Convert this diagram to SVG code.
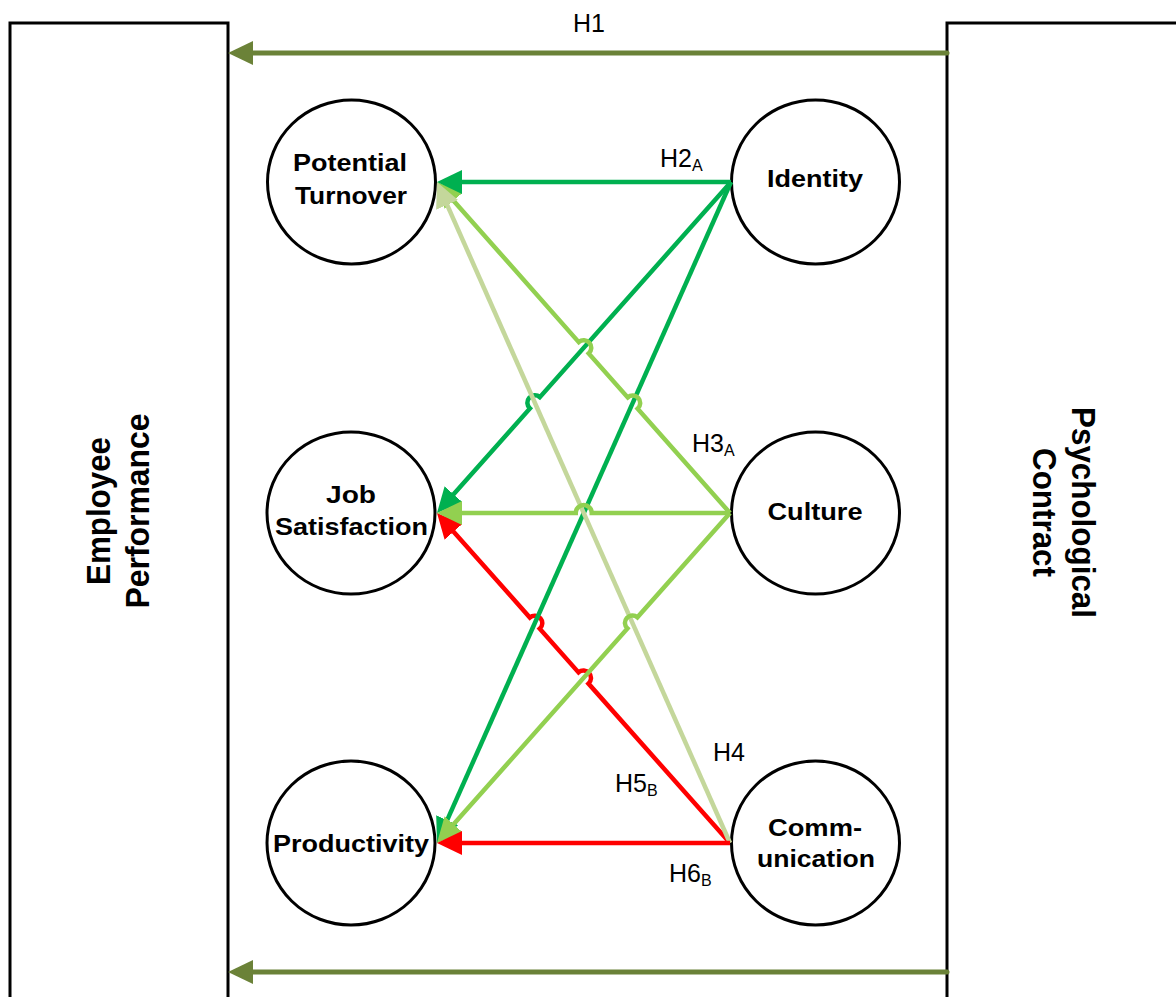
<svg xmlns="http://www.w3.org/2000/svg" width="1176" height="997" viewBox="0 0 1176 997">
  <style>
    .box { fill: #ffffff; stroke: #000000; stroke-width: 3; }
    .node { fill: #ffffff; stroke: #000000; stroke-width: 3; }
    .lbl { font-family: "Liberation Sans", Arial, sans-serif; font-weight: bold; font-size: 23.5px; fill: #000000; text-anchor: middle; }
    .side { font-family: "Liberation Sans", Arial, sans-serif; font-weight: bold; font-size: 34px; fill: #000000; text-anchor: middle; }
    .hyp { font-family: "Liberation Sans", Arial, sans-serif; font-size: 25px; fill: #000000; }
    .sub { font-size: 16px; }
    .link { fill: none; stroke-width: 4.5; stroke-linejoin: miter; }
    .main { fill: none; stroke: #6B8238; stroke-width: 5; stroke-linecap: round; }
    .dg { stroke: #00B050; }
    .lg { stroke: #92D050; }
    .pg { stroke: #C4D79B; }
    .rd { stroke: #FF0000; }
  </style>
  <defs>
    <marker id="ah-olive" viewBox="0 0 25 24" refX="3" refY="12" markerWidth="25" markerHeight="24" markerUnits="userSpaceOnUse" orient="auto">
      <path d="M0,0 L25,12 L0,24 z" fill="#6B8238"/>
    </marker>
    <marker id="ah-dg" viewBox="0 0 25 24" refX="3" refY="12" markerWidth="25" markerHeight="24" markerUnits="userSpaceOnUse" orient="auto">
      <path d="M0,0 L25,12 L0,24 z" fill="#00B050"/>
    </marker>
    <marker id="ah-lg" viewBox="0 0 25 24" refX="3" refY="12" markerWidth="25" markerHeight="24" markerUnits="userSpaceOnUse" orient="auto">
      <path d="M0,0 L25,12 L0,24 z" fill="#92D050"/>
    </marker>
    <marker id="ah-pg" viewBox="0 0 25 24" refX="3" refY="12" markerWidth="25" markerHeight="24" markerUnits="userSpaceOnUse" orient="auto">
      <path d="M0,0 L25,12 L0,24 z" fill="#C4D79B"/>
    </marker>
    <marker id="ah-rd" viewBox="0 0 25 24" refX="3" refY="12" markerWidth="25" markerHeight="24" markerUnits="userSpaceOnUse" orient="auto">
      <path d="M0,0 L25,12 L0,24 z" fill="#FF0000"/>
    </marker>
  </defs>

  <rect width="1176" height="997" fill="#ffffff"/>

  <!-- outer construct boxes -->
  <g id="employee-performance">
    <rect class="box" x="10" y="23" width="218" height="1000"/>
    <text class="side" transform="translate(110,511) rotate(-90)" textLength="148" lengthAdjust="spacingAndGlyphs">Employee</text>
    <text class="side" transform="translate(149,511) rotate(-90)" textLength="195" lengthAdjust="spacingAndGlyphs">Performance</text>
  </g>
  <g id="psychological-contract">
    <rect class="box" x="947" y="23" width="240" height="1000"/>
    <text class="side" transform="translate(1072,512.5) rotate(90)" textLength="211" lengthAdjust="spacingAndGlyphs">Psychological</text>
    <text class="side" transform="translate(1033,512.5) rotate(90)" textLength="129" lengthAdjust="spacingAndGlyphs">Contract</text>
  </g>

  <!-- outcome nodes -->
  <g id="potential-turnover">
    <ellipse class="node" cx="351.5" cy="182" rx="84" ry="82"/>
    <text class="lbl" x="350" y="171" textLength="114" lengthAdjust="spacingAndGlyphs">Potential</text>
    <text class="lbl" x="351" y="204" textLength="112" lengthAdjust="spacingAndGlyphs">Turnover</text>
  </g>
  <g id="job-satisfaction">
    <ellipse class="node" cx="351" cy="513" rx="84" ry="81"/>
    <text class="lbl" x="351" y="503" textLength="50" lengthAdjust="spacingAndGlyphs">Job</text>
    <text class="lbl" x="351.5" y="535" textLength="153" lengthAdjust="spacingAndGlyphs">Satisfaction</text>
  </g>
  <g id="productivity">
    <ellipse class="node" cx="351" cy="843" rx="84" ry="82"/>
    <text class="lbl" x="351" y="852" textLength="156" lengthAdjust="spacingAndGlyphs">Productivity</text>
  </g>

  <!-- driver nodes -->
  <g id="identity">
    <ellipse class="node" cx="815.5" cy="182" rx="84" ry="82"/>
    <text class="lbl" x="815" y="187" textLength="96" lengthAdjust="spacingAndGlyphs">Identity</text>
  </g>
  <g id="culture">
    <ellipse class="node" cx="815.5" cy="513" rx="84" ry="81"/>
    <text class="lbl" x="815" y="520" textLength="95" lengthAdjust="spacingAndGlyphs">Culture</text>
  </g>
  <g id="communication">
    <ellipse class="node" cx="815.5" cy="843" rx="84" ry="82"/>
    <text class="lbl" x="815" y="836" textLength="94" lengthAdjust="spacingAndGlyphs">Comm-</text>
    <text class="lbl" x="816" y="867" textLength="118" lengthAdjust="spacingAndGlyphs">unication</text>
  </g>

  <!-- connectors; line hops drawn as small arcs at crossings -->
  <g id="connectors">
    <path class="main" d="M947,53 L250,53" marker-end="url(#ah-olive)"/>
    <path class="main" d="M947,972 L250,972" marker-end="url(#ah-olive)"/>

    <path class="link rd" d="M730,843 L588.48,683.61 A7.5,7.5 0 0 0 578.52,672.39 L539.77,628.75 A7.5,7.5 0 0 0 529.81,617.53 L451.61,529.45" marker-end="url(#ah-rd)"/>
    <path class="link dg" d="M731,182 L445.94,822.9" marker-end="url(#ah-dg)"/>
    <path class="link dg" d="M731,182 L539.86,397.20 A7.5,7.5 0 0 0 529.90,408.42 L451.6,496.55" marker-end="url(#ah-dg)"/>
    <path class="link lg" d="M730,513 L637.65,408.68 A7.5,7.5 0 0 0 627.71,397.44 L588.72,353.40 A7.5,7.5 0 0 0 578.78,342.16 L451.58,198.47" marker-end="url(#ah-lg)"/>
    <path class="link pg" d="M730,843 L445.92,202.11" marker-end="url(#ah-pg)"/>
    <path class="link dg" d="M731,182 L459,182" marker-end="url(#ah-dg)"/>
    <path class="link lg" d="M730,513 L637.41,617.28 A7.5,7.5 0 0 0 627.45,628.50 L451.61,826.55" marker-end="url(#ah-lg)"/>
    <path class="link lg" d="M730,513 L591.75,513 A8,8 0 0 0 575.75,513 L459,513" marker-end="url(#ah-lg)"/>
    <path class="link rd" d="M730,843 L459,843" marker-end="url(#ah-rd)"/>
  </g>

  <!-- hypothesis labels -->
  <g id="hypotheses">
    <text class="hyp" x="573" y="32">H1</text>
    <text class="hyp" x="660" y="167">H2<tspan class="sub" dy="4">A</tspan></text>
    <text class="hyp" x="692" y="452">H3<tspan class="sub" dy="4">A</tspan></text>
    <text class="hyp" x="713" y="761">H4</text>
    <text class="hyp" x="615" y="792">H5<tspan class="sub" dy="4">B</tspan></text>
    <text class="hyp" x="669" y="882">H6<tspan class="sub" dy="4">B</tspan></text>
  </g>
</svg>
